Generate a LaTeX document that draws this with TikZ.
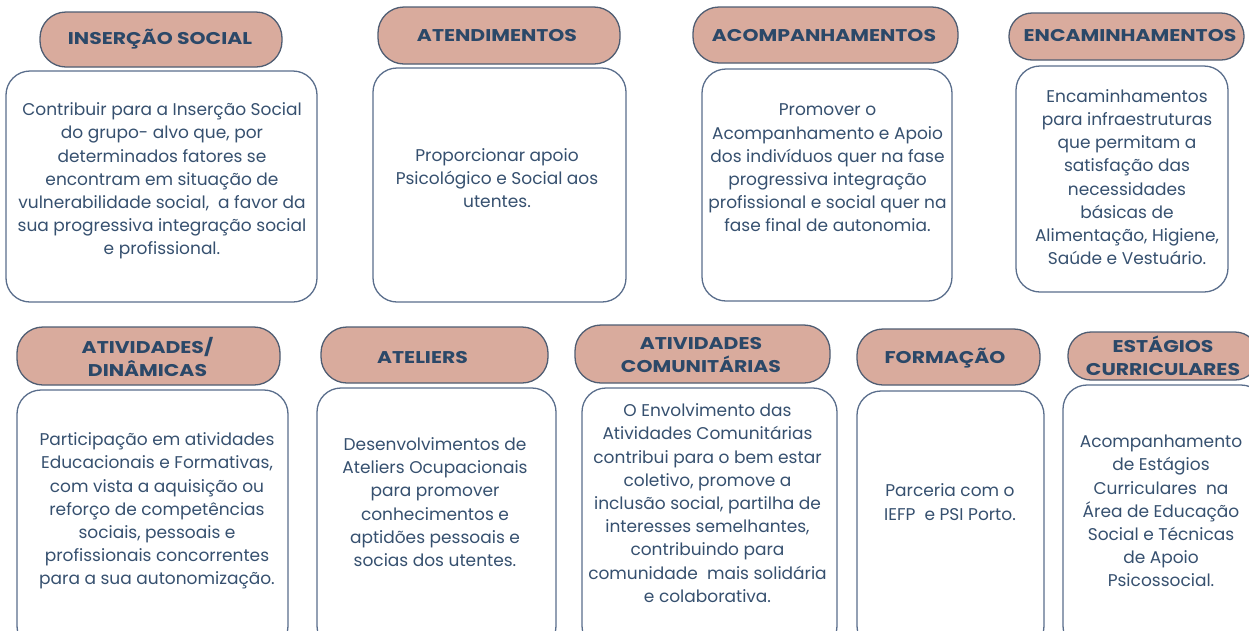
\documentclass[tikz,border=0pt]{standalone}
\usepackage{fontspec}
\setmainfont{Poppins}
\newfontfamily\hfont{Poppins}[UprightFont=* Bold, FakeStretch=1.2]
\definecolor{hfill}{HTML}{D9AB9D}
\definecolor{hline}{HTML}{4F5D72}
\definecolor{bline}{HTML}{5A6E8C}
\definecolor{htext}{HTML}{2B4868}
\definecolor{btext}{HTML}{36506F}
\begin{document}
\begin{tikzpicture}[x=1pt,y=-1pt,
  hdr/.style={draw=hline, fill=hfill, line width=1.3pt, rounded corners=26pt, inner sep=0pt},
  bodybox/.style={draw=bline, fill=white, line width=1.3pt, rounded corners=24pt, inner sep=0pt},
  htxt/.style={text=htext, font=\hfont\fontsize{17}{23}\selectfont, align=center, inner sep=0pt},
  btxt/.style={text=btext, font=\fontsize{17}{23.2}\selectfont, align=center, inner sep=0pt}]
\clip (0,0) rectangle (1249,630);
\fill[white] (0,0) rectangle (1249,630);
% headers
\node[hdr, minimum width=242pt, minimum height=55pt] (h1) at (161,39.5) {};
\node[hdr, minimum width=242pt, minimum height=57pt] (h2) at (499,35.5) {};
\node[hdr, minimum width=265pt, minimum height=56pt] (h3) at (825.5,35) {};
\node[hdr, minimum width=235pt, minimum height=47pt, rounded corners=23pt] (h4) at (1126.5,36.5) {};
\node[hdr, minimum width=263pt, minimum height=58pt] (h5) at (148.5,356) {};
\node[hdr, minimum width=227pt, minimum height=56pt] (h6) at (434.5,355) {};
\node[hdr, minimum width=255pt, minimum height=58pt] (h7) at (702.5,354) {};
\node[hdr, minimum width=183pt, minimum height=56pt] (h8) at (948.5,357) {};
\node[hdr, minimum width=190pt, minimum height=48pt, rounded corners=23pt] (h9) at (1163,356) {};
% bodies
\node[bodybox, minimum width=311pt, minimum height=231pt] (b1) at (161.5,186.5) {};
\node[bodybox, minimum width=253pt, minimum height=234pt] (b2) at (499.5,185) {};
\node[bodybox, minimum width=250pt, minimum height=232pt] (b3) at (827,185) {};
\node[bodybox, minimum width=212pt, minimum height=226pt] (b4) at (1122,179) {};
\node[bodybox, minimum width=271pt, minimum height=260pt] (b5) at (152.5,520) {};
\node[bodybox, minimum width=239pt, minimum height=262pt] (b6) at (436.5,519) {};
\node[bodybox, minimum width=255pt, minimum height=262pt] (b7) at (709.5,519) {};
\node[bodybox, minimum width=187pt, minimum height=259pt] (b8) at (950.5,520.5) {};
\node[bodybox, minimum width=202pt, minimum height=265pt] (b9) at (1164,517.5) {};
% header texts
\node[htxt] (l1) at (160,39.5) {INSERÇÃO SOCIAL};
\node[htxt] (l2) at (497,35.5) {ATENDIMENTOS};
\node[htxt] (l3) at (824,36) {ACOMPANHAMENTOS};
\node[htxt] (l4) at (1130,35.5) {ENCAMINHAMENTOS};
\node[htxt] (l5) at (147.5,357) {ATIVIDADES/\\DINÂMICAS};
\node[htxt] (l6) at (422.5,357.5) {ATELIERS};
\node[htxt] (l7) at (701,355) {ATIVIDADES\\COMUNITÁRIAS};
\node[htxt] (l8) at (945,358) {FORMAÇÃO};
\node[htxt] (l9) at (1163,356) {ESTÁGIOS\\CURRICULARES};
% body texts
\node[btxt] (t1) at (162,181) {Contribuir para a Inserção Social\\do grupo- alvo que, por\\determinados fatores se\\encontram em situação de\\vulnerabilidade social,\ \ a favor da\\sua progressiva integração social\\e profissional.};
\node[btxt] (t2) at (497,178) {Proporcionar apoio\\Psicológico e Social aos\\utentes.};
\node[btxt] (t3) at (827.5,168) {Promover o\\Acompanhamento e Apoio\\dos indivíduos quer na fase\\progressiva integração\\profissional e social quer na\\fase final de autonomia.};
\node[btxt] (t4) at (1127,177) {Encaminhamentos\\para infraestruturas\\que permitam a\\satisfação das\\necessidades\\básicas de\\Alimentação, Higiene,\\Saúde e Vestuário.};
\node[btxt] (t5) at (157,511) {Participação em atividades\\Educacionais e Formativas,\\com vista a aquisição ou\\reforço de competências\\sociais, pessoais e\\profissionais concorrentes\\para a sua autonomização.};
\node[btxt] (t6) at (435,502) {Desenvolvimentos de\\Ateliers Ocupacionais\\para promover\\conhecimentos e\\aptidões pessoais e\\socias dos utentes.};
\node[btxt] (t7) at (707.5,503) {O Envolvimento das\\Atividades Comunitárias\\contribui para o bem estar\\coletivo, promove a\\inclusão social, partilha de\\interesses semelhantes,\\contribuindo para\\comunidade\ \ mais solidária\\e colaborativa.};
\node[btxt] (t8) at (950,502) {Parceria com o\\IEFP\ \ e PSI Porto.};
\node[btxt] (t9) at (1161,511) {Acompanhamento\\de Estágios\\Curriculares\ \ na\\Área de Educação\\Social e Técnicas\\de Apoio\\Psicossocial.};
\end{tikzpicture}
\end{document}
